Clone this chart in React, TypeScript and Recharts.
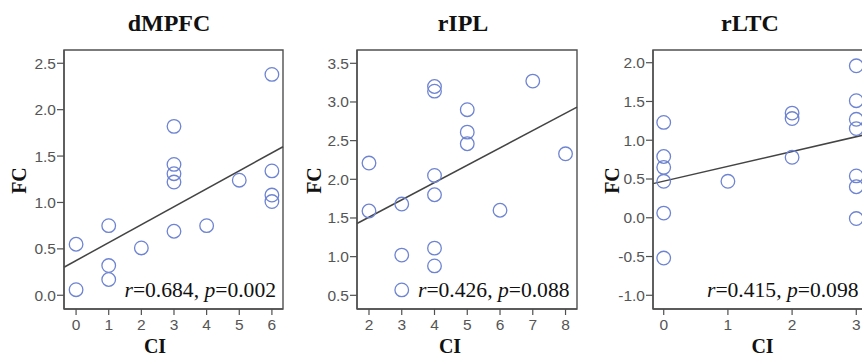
import React from 'react';
import { ScatterChart, Scatter, XAxis, YAxis, ReferenceLine, ReferenceArea } from 'recharts';

// ---------- data ----------
const dmpfcCI = [0, 0, 1, 1, 1, 2, 3, 3, 3, 3, 3, 4, 5, 6, 6, 6, 6];
const dmpfcFC = [0.55, 0.06, 0.75, 0.32, 0.17, 0.51, 1.82, 1.41, 1.31, 1.22, 0.69, 0.75, 1.24, 2.38, 1.34, 1.08, 1.01];
const dmpfcXTicks = [0, 1, 2, 3, 4, 5, 6];
const dmpfcYTicks = [0, 0.5, 1, 1.5, 2, 2.5];
const dmpfcStat = ['0.684', '0.002'];

const ripCI = [2, 2, 3, 3, 3, 4, 4, 4, 4, 4, 4, 5, 5, 5, 6, 7, 8];
const ripFC = [2.21, 1.59, 1.68, 1.02, 0.57, 3.2, 3.14, 2.05, 1.8, 1.11, 0.88, 2.9, 2.61, 2.46, 1.6, 3.27, 2.33];
const ripXTicks = [2, 3, 4, 5, 6, 7, 8];
const ripYTicks = [0.5, 1, 1.5, 2, 2.5, 3, 3.5];
const ripStat = ['0.426', '0.088'];

const rltcCI = [0, 0, 0, 0, 0, 0, 1, 2, 2, 2, 3, 3, 3, 3, 3, 3, 3];
const rltcFC = [1.23, 0.79, 0.65, 0.47, 0.06, -0.52, 0.47, 1.35, 1.28, 0.78, 1.96, 1.51, 1.27, 1.15, 0.54, 0.4, -0.01];
const rltcXTicks = [0, 1, 2, 3];
const rltcYTicks = [-1, -0.5, 0, 0.5, 1, 1.5, 2];
const rltcStat = ['0.415', '0.098'];

// ---------- styles ----------
const SERIF = '"Liberation Serif", "Times New Roman", serif';
const SANS = '"Liberation Sans", Arial, sans-serif';
const FRAME = '#505050';
const TICK_TEXT = '#555555';
const DOT = '#6e84d2';

function fit(xs: number[], ys: number[]) {
  const n = xs.length;
  const mx = xs.reduce((a, b) => a + b, 0) / n;
  const my = ys.reduce((a, b) => a + b, 0) / n;
  let sxy = 0;
  let sxx = 0;
  for (let i = 0; i < n; i++) {
    sxy += (xs[i] - mx) * (ys[i] - my);
    sxx += (xs[i] - mx) * (xs[i] - mx);
  }
  const slope = sxy / sxx;
  return { slope, intercept: my - slope * mx };
}

const Circle = (props: any) => {
  const { cx, cy } = props;
  if (cx == null || cy == null) return null;
  return <circle cx={cx} cy={cy} r={6.8} fill="none" stroke={DOT} strokeWidth={1.3} />;
};

type PanelProps = {
  left: number;
  width: number;
  boxLeft: number;
  boxRight: number;
  xs: number[];
  ys: number[];
  xDomain: [number, number];
  yDomain: [number, number];
  xTicks: number[];
  yTicks: number[];
  title: string;
  titleX: number;
  ciX: number;
  fcX: number;
  stat: string[];
  statRight: number;
};

const TOP = 50;
const BOTTOM = 309;
const H = 358;

function Panel(p: PanelProps) {
  const data = p.xs.map((x, i) => ({ x, y: p.ys[i] }));
  const { slope, intercept } = fit(p.xs, p.ys);
  const x0 = p.xDomain[0];
  const x1 = p.xDomain[1];
  const segment = [
    { x: x0, y: intercept + slope * x0 },
    { x: x1, y: intercept + slope * x1 },
  ];
  const off = p.left;
  const yAxisW = p.boxLeft - p.left;
  const rightMargin = p.left + p.width - p.boxRight;
  const xAxisH = 30;
  const bottomMargin = H - BOTTOM - xAxisH;

  const overlay = () => (
    <g>
      <text
        x={p.titleX - off}
        y={31}
        textAnchor="middle"
        fontFamily={SERIF}
        fontWeight="bold"
        fontSize={24}
        fill="#111"
      >
        {p.title}
      </text>
      <text
        x={p.statRight - off}
        y={297}
        textAnchor="end"
        fontFamily={SERIF}
        fontSize={21.6}
        fill="#111"
      >
        <tspan fontStyle="italic">r</tspan>
        <tspan>{`=${p.stat[0]}, `}</tspan>
        <tspan fontStyle="italic">p</tspan>
        <tspan>{`=${p.stat[1]}`}</tspan>
      </text>
    </g>
  );

  return (
    <div style={{ position: 'absolute', left: p.left, top: 0, width: p.width, height: H }}>
      <ScatterChart
        width={p.width}
        height={H}
        margin={{ top: TOP, right: rightMargin, bottom: bottomMargin, left: 0 }}
      >
        <XAxis
          type="number"
          dataKey="x"
          domain={p.xDomain}
          ticks={p.xTicks}
          allowDataOverflow
          height={xAxisH}
          tickSize={6}
          tickMargin={4}
          interval={0}
          tick={{ fill: TICK_TEXT, fontSize: 15.5, fontFamily: SANS }}
          tickLine={{ stroke: FRAME, strokeWidth: 1.2 }}
          axisLine={{ stroke: FRAME, strokeWidth: 1.4 }}
          label={() => (
            <text
              x={p.ciX - off}
              y={353}
              textAnchor="middle"
              fontFamily={SERIF}
              fontWeight="bold"
              fontSize={20}
              fill="#111"
            >
              CI
            </text>
          )}
        />
        <YAxis
          type="number"
          dataKey="y"
          domain={p.yDomain}
          ticks={p.yTicks}
          allowDataOverflow
          width={yAxisW}
          tickSize={7}
          tickMargin={1}
          interval={0}
          tickFormatter={(v: number) => v.toFixed(1)}
          tick={{ fill: TICK_TEXT, fontSize: 15.5, fontFamily: SANS }}
          tickLine={{ stroke: FRAME, strokeWidth: 1.2 }}
          axisLine={{ stroke: FRAME, strokeWidth: 1.4 }}
          label={() => (
            <text
              x={p.fcX - off}
              y={180.5}
              transform={`rotate(-90, ${p.fcX - off}, 180.5)`}
              textAnchor="middle"
              dominantBaseline="central"
              fontFamily={SERIF}
              fontWeight="bold"
              fontSize={20}
              fill="#111"
            >
              FC
            </text>
          )}
        />
        <ReferenceArea
          x1={p.xDomain[0]}
          x2={p.xDomain[1]}
          y1={p.yDomain[0]}
          y2={p.yDomain[1]}
          fill="none"
          fillOpacity={0}
          stroke={FRAME}
          strokeWidth={1.4}
          ifOverflow="visible"
          label={overlay}
        />
        <ReferenceLine
          segment={segment}
          stroke="#444444"
          strokeWidth={1.5}
          ifOverflow="visible"
        />
        <Scatter data={data} shape={Circle} isAnimationActive={false} />
      </ScatterChart>
    </div>
  );
}

export default function App() {
  return (
    <div
      style={{
        position: 'absolute',
        left: 0,
        top: 0,
        width: 862,
        height: 358,
        overflow: 'hidden',
        background: '#fff',
      }}
    >
      <Panel
        left={0}
        width={290}
        boxLeft={64}
        boxRight={283}
        xs={dmpfcCI}
        ys={dmpfcFC}
        xDomain={[-0.37, 6.34]}
        yDomain={[-0.148, 2.643]}
        xTicks={dmpfcXTicks}
        yTicks={dmpfcYTicks}
        title="dMPFC"
        titleX={169}
        ciX={155}
        fcX={18.5}
        stat={dmpfcStat}
        statRight={276}
      />
      <Panel
        left={290}
        width={290}
        boxLeft={357}
        boxRight={577}
        xs={ripCI}
        ys={ripFC}
        xDomain={[1.634, 8.35]}
        yDomain={[0.323, 3.672]}
        xTicks={ripXTicks}
        yTicks={ripYTicks}
        title="rIPL"
        titleX={463}
        ciX={450}
        fcX={313.5}
        stat={ripStat}
        statRight={569.5}
      />
      <Panel
        left={580}
        width={300}
        boxLeft={653}
        boxRight={867}
        xs={rltcCI}
        ys={rltcFC}
        xDomain={[-0.167, 3.167]}
        yDomain={[-1.177, 2.164]}
        xTicks={rltcXTicks}
        yTicks={rltcYTicks}
        title="rLTC"
        titleX={750}
        ciX={762.5}
        fcX={611.5}
        stat={rltcStat}
        statRight={858.5}
      />
    </div>
  );
}
